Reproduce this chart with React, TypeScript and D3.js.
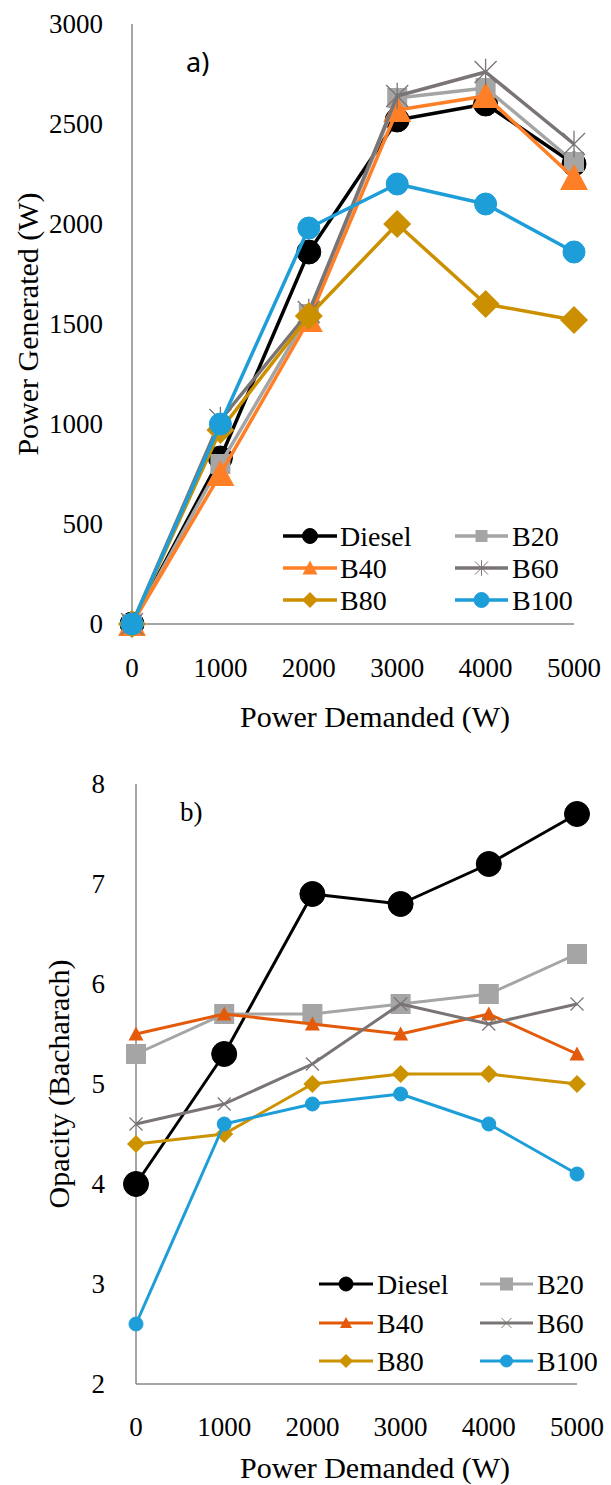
import React from "react";
import * as d3 from "d3";

const demand = [0, 1000, 2000, 3000, 4000, 5000];
const xTicks = [0, 1000, 2000, 3000, 4000, 5000];
const seriesNames = ["Diesel", "B20", "B40", "B60", "B80", "B100"];

// a) Power generated (W)
const genDiesel = [0, 830, 1860, 2520, 2600, 2300];
const genB20 = [0, 800, 1550, 2630, 2680, 2310];
const genB40 = [0, 750, 1520, 2570, 2640, 2230];
const genB60 = [0, 1020, 1560, 2640, 2760, 2400];
const genB80 = [0, 970, 1540, 2000, 1600, 1520];
const genB100 = [0, 1000, 1980, 2200, 2100, 1860];
const genTicks = [0, 500, 1000, 1500, 2000, 2500, 3000];

// b) Opacity (Bacharach)
const opDiesel = [4.0, 5.3, 6.9, 6.8, 7.2, 7.7];
const opB20 = [5.3, 5.7, 5.7, 5.8, 5.9, 6.3];
const opB40 = [5.5, 5.7, 5.6, 5.5, 5.7, 5.3];
const opB60 = [4.6, 4.8, 5.2, 5.8, 5.6, 5.8];
const opB80 = [4.4, 4.5, 5.0, 5.1, 5.1, 5.0];
const opB100 = [2.6, 4.6, 4.8, 4.9, 4.6, 4.1];
const opTicks = [2, 3, 4, 5, 6, 7, 8];

const SERIF = "'Liberation Serif', 'DejaVu Serif', serif";
const SANS = "'Noto Sans', 'Liberation Sans', sans-serif";
const AXIS = "#898989";

type MarkerSpec = { kind: string; size: number; color: string; stroke?: number };

function Marker({ x, y, m }: { x: number; y: number; m: MarkerSpec }) {
  const s = m.size;
  const h = s / 2;
  switch (m.kind) {
    case "circle":
      return <circle cx={x} cy={y} r={h} fill={m.color} stroke={m.color} strokeWidth={1} />;
    case "square":
      return <rect x={x - h} y={y - h} width={s} height={s} fill={m.color} />;
    case "triangle": {
      const p = d3.path();
      p.moveTo(x, y - h);
      p.lineTo(x + h, y + h * 0.85);
      p.lineTo(x - h, y + h * 0.85);
      p.closePath();
      return <path d={p.toString()} fill={m.color} />;
    }
    case "diamond": {
      const p = d3.path();
      p.moveTo(x, y - h);
      p.lineTo(x + h, y);
      p.lineTo(x, y + h);
      p.lineTo(x - h, y);
      p.closePath();
      return <path d={p.toString()} fill={m.color} />;
    }
    case "star": {
      const p = d3.path();
      p.moveTo(x - h, y - h);
      p.lineTo(x + h, y + h);
      p.moveTo(x + h, y - h);
      p.lineTo(x - h, y + h);
      p.moveTo(x, y - h * 1.2);
      p.lineTo(x, y + h * 1.2);
      return <path d={p.toString()} fill="none" stroke={m.color} strokeWidth={m.stroke || 1.3} />;
    }
    case "x": {
      const p = d3.path();
      p.moveTo(x - h, y - h);
      p.lineTo(x + h, y + h);
      p.moveTo(x + h, y - h);
      p.lineTo(x - h, y + h);
      return <path d={p.toString()} fill="none" stroke={m.color} strokeWidth={m.stroke || 1.3} />;
    }
  }
  return null;
}

type ChartCfg = {
  series: number[][];
  colors: string[];
  markers: MarkerSpec[];
  legendMarkers: MarkerSpec[];
  lineWidth: number;
  yDomain: [number, number];
  yTicks: number[];
  xRange: [number, number];
  yRange: [number, number];
  yLabelX: number;
  xLabelY: number;
  yTitle: string;
  yTitleX: number;
  xTitleY: number;
  panel: string;
  panelX: number;
  panelY: number;
  panelFont: string;
  legendRows: number[];
  legendCols: { x0: number; x1: number; tx: number }[];
};

function Chart({ c }: { c: ChartCfg }) {
  const x = d3.scaleLinear().domain([0, 5000]).range(c.xRange);
  const y = d3.scaleLinear().domain(c.yDomain).range(c.yRange);
  const line = d3
    .line<number>()
    .x((_, i) => x(demand[i]))
    .y((d) => y(d));
  const midY = (c.yRange[0] + c.yRange[1]) / 2;
  const midX = 375;
  return (
    <g>
      <line x1={c.xRange[0]} x2={c.xRange[0]} y1={c.yRange[1]} y2={c.yRange[0]} stroke={AXIS} strokeWidth={1.5} />
      <line x1={c.xRange[0]} x2={c.xRange[1]} y1={c.yRange[0]} y2={c.yRange[0]} stroke={AXIS} strokeWidth={1.5} />
      {c.yTicks.map((t) => (
        <text key={"y" + t} x={c.yLabelX} y={y(t)} dy="0.35em" textAnchor="end" fontFamily={SERIF} fontSize={27}>
          {t}
        </text>
      ))}
      {xTicks.map((t) => (
        <text key={"x" + t} x={x(t)} y={c.xLabelY} dy="0.35em" textAnchor="middle" fontFamily={SERIF} fontSize={27}>
          {t}
        </text>
      ))}
      <text
        transform={`translate(${c.yTitleX},${midY}) rotate(-90)`}
        dy="0.35em"
        textAnchor="middle"
        fontFamily={SERIF}
        fontSize={30}
      >
        {c.yTitle}
      </text>
      <text x={midX} y={c.xTitleY} dy="0.35em" textAnchor="middle" fontFamily={SERIF} fontSize={30}>
        Power Demanded (W)
      </text>
      <text x={c.panelX} y={c.panelY} dy="0.35em" fontFamily={c.panelFont} fontSize={27}>
        {c.panel}
      </text>
      {c.series.map((s, si) => (
        <g key={si}>
          <path d={line(s) || ""} fill="none" stroke={c.colors[si]} strokeWidth={c.lineWidth} strokeLinejoin="round" />
          {s.map((v, i) => (
            <Marker key={i} x={x(demand[i])} y={y(v)} m={c.markers[si]} />
          ))}
        </g>
      ))}
      {seriesNames.map((n, i) => {
        const row = c.legendRows[Math.floor(i / 2)];
        const col = c.legendCols[i % 2];
        return (
          <g key={n}>
            <line x1={col.x0} x2={col.x1} y1={row} y2={row} stroke={c.colors[i]} strokeWidth={c.lineWidth} />
            <Marker x={(col.x0 + col.x1) / 2} y={row} m={c.legendMarkers[i]} />
            <text x={col.tx} y={row} dy="0.35em" fontFamily={SERIF} fontSize={28}>
              {n}
            </text>
          </g>
        );
      })}
    </g>
  );
}

const colorsA = ["#000000", "#A5A5A5", "#FF7F27", "#7A7474", "#CC8F00", "#1E9ED9"];
const colorsB = ["#000000", "#A5A5A5", "#E35B0A", "#7A7474", "#CC9200", "#1E9ED9"];

const chartA: ChartCfg = {
  series: [genDiesel, genB20, genB40, genB60, genB80, genB100],
  colors: colorsA,
  markers: [
    { kind: "circle", size: 24, color: colorsA[0] },
    { kind: "square", size: 20, color: colorsA[1] },
    { kind: "triangle", size: 28, color: colorsA[2] },
    { kind: "star", size: 22, color: colorsA[3], stroke: 1.3 },
    { kind: "diamond", size: 28, color: colorsA[4] },
    { kind: "circle", size: 22, color: colorsA[5] },
  ],
  legendMarkers: [
    { kind: "circle", size: 15, color: colorsA[0] },
    { kind: "square", size: 12, color: colorsA[1] },
    { kind: "triangle", size: 15, color: colorsA[2] },
    { kind: "star", size: 13, color: colorsA[3], stroke: 1 },
    { kind: "diamond", size: 16, color: colorsA[4] },
    { kind: "circle", size: 15, color: colorsA[5] },
  ],
  lineWidth: 3.5,
  yDomain: [0, 3000],
  yTicks: genTicks,
  xRange: [132, 574],
  yRange: [624, 24],
  yLabelX: 103,
  xLabelY: 668,
  yTitle: "Power Generated (W)",
  yTitleX: 27,
  xTitleY: 716,
  panel: "a)",
  panelX: 186,
  panelY: 63,
  panelFont: SANS,
  legendRows: [536, 568, 600],
  legendCols: [
    { x0: 283, x1: 337, tx: 340 },
    { x0: 455, x1: 508, tx: 512 },
  ],
};

const chartB: ChartCfg = {
  series: [opDiesel, opB20, opB40, opB60, opB80, opB100],
  colors: colorsB,
  markers: [
    { kind: "circle", size: 25, color: colorsB[0] },
    { kind: "square", size: 20, color: colorsB[1] },
    { kind: "triangle", size: 15, color: colorsB[2] },
    { kind: "x", size: 13, color: colorsB[3], stroke: 1.2 },
    { kind: "diamond", size: 18, color: colorsB[4] },
    { kind: "circle", size: 14, color: colorsB[5] },
  ],
  legendMarkers: [
    { kind: "circle", size: 14, color: colorsB[0] },
    { kind: "square", size: 13, color: colorsB[1] },
    { kind: "triangle", size: 12, color: colorsB[2] },
    { kind: "x", size: 10, color: colorsB[3], stroke: 1 },
    { kind: "diamond", size: 14, color: colorsB[4] },
    { kind: "circle", size: 12, color: colorsB[5] },
  ],
  lineWidth: 3,
  yDomain: [2, 8],
  yTicks: opTicks,
  xRange: [136, 577],
  yRange: [1384, 784],
  yLabelX: 105,
  xLabelY: 1427,
  yTitle: "Opacity (Bacharach)",
  yTitleX: 58,
  xTitleY: 1467,
  panel: "b)",
  panelX: 180,
  panelY: 812,
  panelFont: SERIF,
  legendRows: [1284, 1323, 1361],
  legendCols: [
    { x0: 319, x1: 373, tx: 377 },
    { x0: 480, x1: 533, tx: 537 },
  ],
};

export default function App() {
  return (
    <svg
      width={611}
      height={1485}
      style={{ position: "absolute", left: 0, top: 0, background: "#fff" }}
    >
      <rect width={611} height={1485} fill="#fff" />
      <Chart c={chartA} />
      <Chart c={chartB} />
    </svg>
  );
}
